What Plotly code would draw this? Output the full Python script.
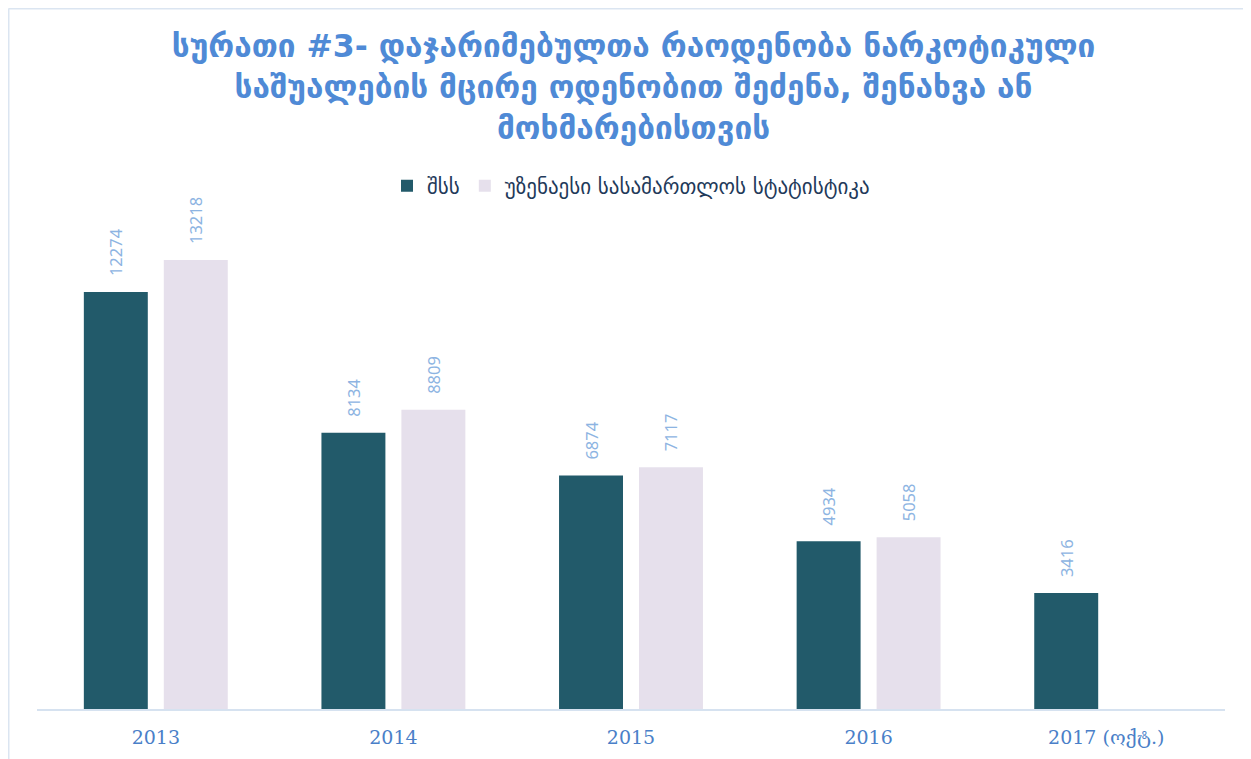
import plotly.graph_objects as go

years = ["2013", "2014", "2015", "2016", "2017 (ოქტ.)"]
mia = [12274, 8134, 6874, 4934, 3416]
court = [13218, 8809, 7117, 5058, None]
series_names = ["შსს", "უზენაესი სასამართლოს სტატისტიკა"]
title_text = ("სურათი #3- დაჯარიმებულთა რაოდენობა ნარკოტიკული<br>"
              "საშუალების მცირე ოდენობით შეძენა, შენახვა ან<br>"
              "მოხმარებისთვის")

L, R, T, B = 29, 34, 207, 58
W, H = 1251, 759
PW, PH = W - L - R, H - T - B

label_font = dict(family="Noto Sans, DejaVu Sans", size=16.5, color="#8db4e2")
pad = "\u00a0\u00a0\u00a0"

fig = go.Figure()
fig.add_trace(go.Bar(
    x=years, y=mia, name=series_names[0],
    marker=dict(color="#225a6a", line=dict(width=0)),
    text=[pad + str(v) for v in mia], textposition="outside", textangle=-90,
    textfont=label_font, cliponaxis=False,
))
fig.add_trace(go.Bar(
    x=years, y=court, name=series_names[1],
    marker=dict(color="#e6e0ec", line=dict(width=0)),
    text=[pad + str(v) if v is not None else "" for v in court], textposition="outside", textangle=-90,
    textfont=label_font, cliponaxis=False,
))

fig.update_layout(
    width=W, height=H,
    paper_bgcolor="white", plot_bgcolor="white",
    margin=dict(l=L, r=R, t=T, b=B),
    barmode="group", bargap=0.327, bargroupgap=0.2,
    title=dict(text=title_text, x=0.5, xanchor="center", y=1 - 49 / H, yanchor="top",
               font=dict(family="DejaVu Sans", size=31.5, color="#4f8ad6", weight="bold")),
    legend=dict(orientation="h", x=0.5, xanchor="center", y=(701 - 178) / PH,
                yanchor="middle",
                font=dict(family="DejaVu Sans", size=21, color="#1f3a5a"),
                itemwidth=30, traceorder="normal"),
    showlegend=True,
)
fig.update_xaxes(showline=True, linecolor="#d6e2f0", linewidth=2, showgrid=False,
                 ticks="", ticklabelstandoff=10,
                 tickfont=dict(family="DejaVu Serif", size=19, color="#4a7fc8"))
fig.update_yaxes(visible=False, range=[0, 14540])

# outer chart frame (left and top edges)
x0 = (0.5 - L) / PW
y0 = 1 + (T - 0.5) / PH
fig.add_shape(type="line", xref="paper", yref="paper", x0=x0, x1=x0, y0=-(B - 1) / PH, y1=y0,
              line=dict(color="#dbe5f1", width=2))
fig.add_shape(type="line", xref="paper", yref="paper", x0=x0, x1=1 + R / PW, y0=y0, y1=y0,
              line=dict(color="#dbe5f1", width=2))

fig.write_html("out.html")
